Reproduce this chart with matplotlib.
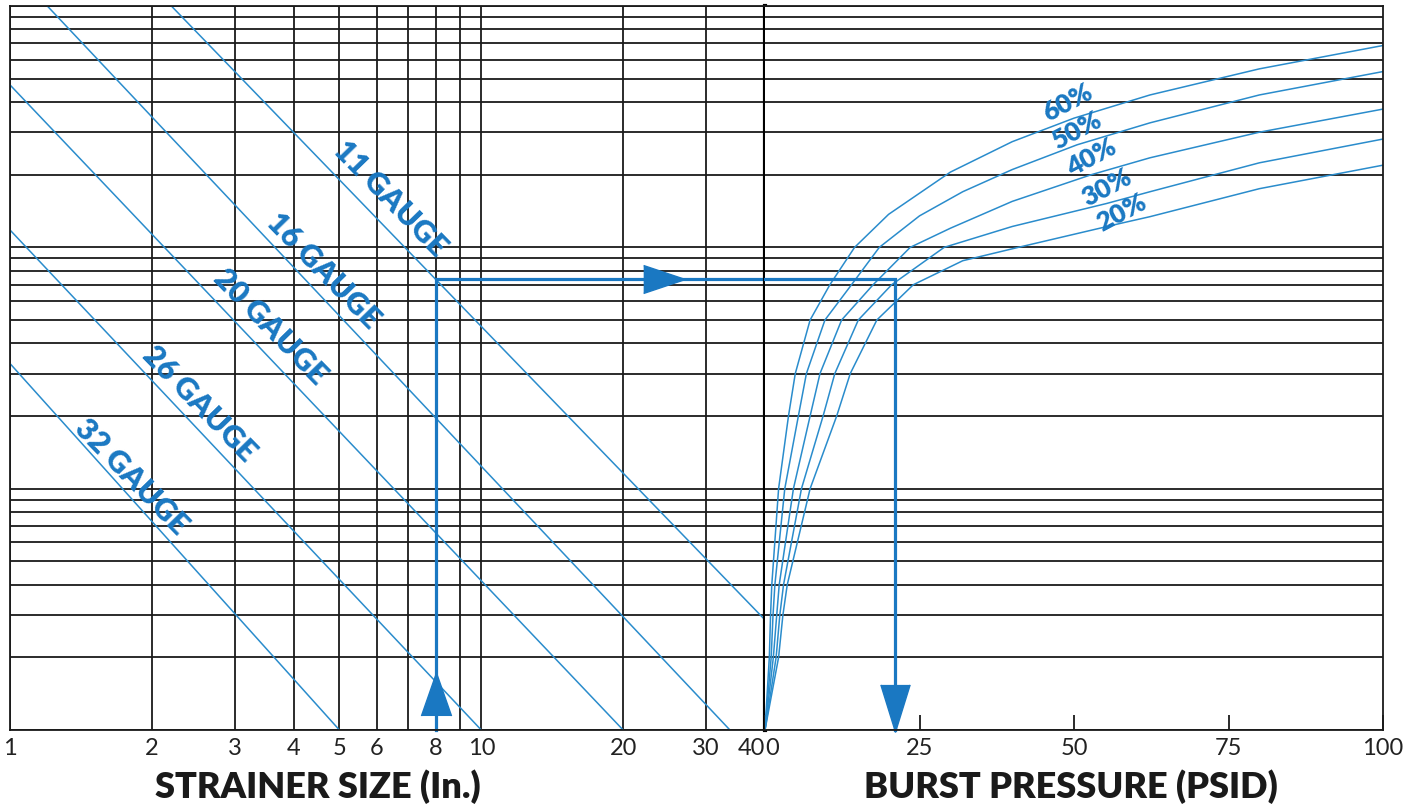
import numpy as np
import matplotlib
matplotlib.use('Agg')
import matplotlib.pyplot as plt
import matplotlib.transforms as mtransforms

plt.rcParams['font.family'] = ['Lato', 'DejaVu Sans']

# ---- data ----
# gauge lines on the strainer-size side (log-log), two end points each
gauge_names = ['11 GAUGE', '16 GAUGE', '20 GAUGE', '26 GAUGE', '32 GAUGE']
gauge_x = [[2.2, 40], [1.2, 33.7], [1, 20], [1, 10], [1, 5]]
gauge_y = [[1000, 2.86], [1000, 1], [471, 1], [118, 1], [33, 1]]
gauge_lab_x = [6.40, 4.62, 3.56, 2.52, 1.81]
gauge_lab_y = [159.5, 79.8, 46.8, 22.4, 11.2]

# open-area curves on the burst pressure side
open_area = ['60%', '50%', '40%', '30%', '20%']
psid = [
    [0, 0.7, 0.9, 1.1, 2.2, 3.8, 4.9, 7.3, 10.5, 14.5, 20, 30, 40, 50, 62.3, 80, 100],
    [0, 1.0, 1.3, 1.6, 3.2, 5.4, 6.7, 9.7, 14, 18.5, 25, 32, 40, 50.5, 62.3, 80, 100],
    [0, 1.35, 1.9, 2.3, 4.6, 7.3, 8.9, 12.4, 17.5, 23.5, 30, 40, 52.8, 62.3, 80, 100],
    [0, 1.8, 2.4, 3.0, 5.9, 9.4, 11.3, 15.1, 20.5, 29, 40, 55.3, 62.3, 80, 100],
    [0, 2.2, 2.9, 3.6, 7.3, 11.6, 13.8, 18.1, 24, 32, 41, 57.7, 62.3, 80, 100],
]
ratio = [
    [1, 2, 3, 4, 10, 20, 30, 50, 70, 100, 137, 205, 274, 343, 428, 549, 686],
    [1, 2, 3, 4, 10, 20, 30, 50, 70, 100, 135, 170, 210, 266, 328, 428, 535],
    [1, 2, 3, 4, 10, 20, 30, 50, 70, 100, 120, 155, 200, 235, 300, 374],
    [1, 2, 3, 4, 10, 20, 30, 50, 70, 100, 122, 152, 170, 224, 281],
    [1, 2, 3, 4, 10, 20, 30, 50, 70, 88, 100, 126, 134, 175, 219],
]
pct_lab_x = [49, 50.5, 52.8, 55.3, 57.7]
pct_lab_y = [397, 304, 235, 176, 139]

# worked example: 8 in. strainer, 11 gauge -> about 21 PSID
example_size = 8
example_psid = 21

size_ticks = [1, 2, 3, 4, 5, 6, 7, 8, 9, 10, 20, 30, 40]
size_labels = ['1', '2', '3', '4', '5', '6', '', '8', '', '10', '20', '30', '40']
psid_ticks = [0, 25, 50, 75, 100]
psid_labels = ['0', '25', '50', '75', '100']
y_grid = [k * 10 ** e for e in range(3) for k in range(1, 10)] + [1000]

blue = '#1a78c2'
lblue = '#2a8ccc'
grid_c = '#1a1a1a'

fig = plt.figure(figsize=(14.16, 8.08), dpi=100)
W, H = 1416, 808
ax1 = fig.add_axes([10 / W, 78 / H, 755 / W, 724 / H])
ax2 = fig.add_axes([765 / W, 78 / H, 618 / W, 724 / H])

for ax in (ax1, ax2):
    ax.set_yscale('log')
    ax.set_ylim(1, 1000)
    ax.set_yticks(y_grid)
    ax.set_yticklabels([])
    ax.minorticks_off()
    ax.tick_params(axis='y', length=0)
    ax.grid(axis='y', color=grid_c, lw=1.3)
    ax.set_axisbelow(True)
    for s in ax.spines.values():
        s.set_color(grid_c)
        s.set_linewidth(1.3)

# left: strainer size
ax1.set_xscale('log')
ax1.set_xlim(1, 40)
ax1.set_xticks(size_ticks)
ax1.set_xticklabels(size_labels, fontsize=17, color='#222222')
ax1.minorticks_off()
ax1.tick_params(axis='x', length=0, pad=6)
ax1.grid(axis='x', color=grid_c, lw=1.3)
ax1.spines['right'].set_linewidth(3)
ax1.spines['right'].set_color('black')
ax1.get_xticklabels()[-1].set_horizontalalignment('right')

for xs, ys in zip(gauge_x, gauge_y):
    ax1.plot(xs, ys, color=lblue, lw=1.1)
for name, lx, ly in zip(gauge_names, gauge_lab_x, gauge_lab_y):
    ax1.text(lx, ly, name, color=blue, fontsize=22, fontweight='heavy',
             rotation=-45.7, rotation_mode='anchor', ha='center', va='center')

# right: burst pressure
ax2.set_xlim(0, 100)
ax2.set_xticks(psid_ticks)
ax2.set_xticklabels(psid_labels, fontsize=17, color='#222222')
ax2.tick_params(axis='x', direction='in', length=11, width=1.3, pad=6, color=grid_c)
ax2.spines['left'].set_visible(False)
ax2.get_xticklabels()[0].set_horizontalalignment('left')

for xs, ys in zip(psid, ratio):
    ax2.plot(xs, ys, color=lblue, lw=1.1)
for name, lx, ly in zip(open_area, pct_lab_x, pct_lab_y):
    ax2.text(lx, ly, name, color=blue, fontsize=19, fontweight='heavy',
             rotation=28, rotation_mode='anchor', ha='center', va='center')

# example path with arrows
gx, gy = np.log10(gauge_x[0]), np.log10(gauge_y[0])
ex_y = 10 ** np.interp(np.log10(example_size), gx, gy)
ax1.plot([example_size, example_size, 40], [1, ex_y, ex_y], color=blue, lw=2.3,
         solid_joinstyle='miter', clip_on=False)
ax2.plot([0, example_psid, example_psid], [ex_y, ex_y, 1], color=blue, lw=2.3,
         solid_joinstyle='miter', clip_on=False)

up = [(-0.7, -1), (0, 1), (0.7, -1)]
right = [(-1, -0.67), (1, 0), (-1, 0.67)]
down = [(-0.62, 1), (0, -1), (0.62, 1)]
t1 = mtransforms.blended_transform_factory(ax1.transData, ax1.transAxes)
ax1.plot(example_size, 0.050, marker=up, ms=31, color=blue, transform=t1, clip_on=False)
t2 = mtransforms.blended_transform_factory(ax1.transAxes, ax1.transData)
ax1.plot(0.866, ex_y, marker=right, ms=30, color=blue, transform=t2, clip_on=False)
t3 = mtransforms.blended_transform_factory(ax2.transData, ax2.transAxes)
ax2.plot(example_psid, 0.030, marker=down, ms=34, color=blue, transform=t3, clip_on=False)

fig.text(318 / W, 1 - 787 / H, 'STRAINER SIZE (In.)', fontsize=26, fontweight='heavy',
         color='#1a1a1a', ha='center', va='center')
fig.text(1071 / W, 1 - 787 / H, 'BURST PRESSURE (PSID)', fontsize=26, fontweight='heavy',
         color='#1a1a1a', ha='center', va='center')

fig.savefig('out.png', dpi=100, facecolor='white')
